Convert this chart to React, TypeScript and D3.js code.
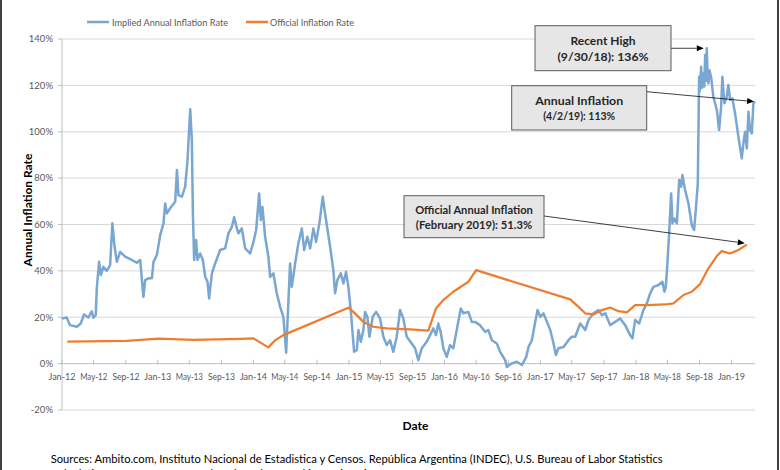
import React from 'react';
import * as d3 from 'd3';

const W = 780;
const H = 470;

// ---------- data ----------
const yTickValues = [-20, 0, 20, 40, 60, 80, 100, 120, 140];
const xTickLabels = ['Jan-12','May-12','Sep-12','Jan-13','May-13','Sep-13','Jan-14','May-14','Sep-14','Jan-15','May-15','Sep-15','Jan-16','May-16','Sep-16','Jan-17','May-17','Sep-17','Jan-18','May-18','Sep-18','Jan-19'];
const seriesNames = ['Implied Annual Inflation Rate', 'Official Inflation Rate'];

// [decimal year, % annual rate]
const impliedRate: [number, number][] = [
[2012.000,19.5],[2012.049,19.9],[2012.084,16.6],[2012.154,15.9],[2012.196,17.3],[2012.230,21.2],[2012.275,19.9],[2012.311,22.6],[2012.327,19.8],[2012.352,20.9],[2012.363,32.4],[2012.387,43.9],[2012.405,38.2],[2012.432,41.8],[2012.467,40.0],[2012.502,42.5],[2012.526,60.5],[2012.547,51.1],[2012.572,43.9],[2012.607,48.2],[2012.659,46.1],[2012.729,44.7],[2012.781,43.5],[2012.816,44.7],[2012.834,36.0],[2012.850,28.8],[2012.868,36.0],[2012.903,36.8],[2012.938,36.8],[2012.955,43.9],[2012.990,46.8],
[2013.025,55.4],[2013.059,60.5],[2013.077,69.1],[2013.095,64.8],[2013.129,67.0],[2013.182,69.8],[2013.200,83.5],[2013.216,72.7],[2013.252,72.0],[2013.286,76.3],[2013.310,87.1],[2013.339,109.7],[2013.356,96.4],[2013.367,64.8],[2013.380,44.7],[2013.401,53.3],[2013.415,44.7],[2013.443,47.5],[2013.471,44.7],[2013.496,37.4],[2013.520,35.3],[2013.537,28.1],[2013.566,38.9],[2013.600,43.2],[2013.652,49.0],[2013.705,49.7],[2013.739,56.2],[2013.775,59.0],[2013.799,63.1],[2013.827,58.3],[2013.844,56.2],[2013.879,58.3],[2013.914,49.7],[2013.966,47.5],
[2014.001,52.5],[2014.029,57.6],[2014.060,73.4],[2014.078,61.9],[2014.095,67.6],[2014.123,54.7],[2014.157,46.1],[2014.175,37.4],[2014.210,38.9],[2014.245,30.3],[2014.280,24.5],[2014.314,20.2],[2014.343,4.7],[2014.367,27.4],[2014.384,43.2],[2014.402,33.1],[2014.437,43.2],[2014.471,51.9],[2014.507,58.3],[2014.531,49.0],[2014.565,54.7],[2014.594,49.7],[2014.628,58.3],[2014.656,52.5],[2014.691,60.5],[2014.726,72.0],[2014.750,64.8],[2014.779,56.9],[2014.803,50.4],[2014.837,40.3],[2014.855,30.3],[2014.879,36.0],[2014.915,38.9],[2014.942,34.6],[2014.970,39.6],[2014.994,33.1],
[2015.019,23.1],[2015.054,5.1],[2015.082,5.8],[2015.099,14.5],[2015.124,9.4],[2015.151,14.5],[2015.169,22.3],[2015.193,20.2],[2015.214,11.6],[2015.249,20.2],[2015.284,22.3],[2015.326,19.5],[2015.360,11.6],[2015.396,8.0],[2015.430,10.1],[2015.465,5.1],[2015.500,11.6],[2015.535,23.1],[2015.569,19.5],[2015.605,11.6],[2015.657,8.7],[2015.692,6.6],[2015.726,1.5],[2015.762,6.6],[2015.814,9.4],[2015.849,12.3],[2015.883,15.2],[2015.911,12.3],[2015.935,17.3],[2015.960,13.7],[2015.988,6.6],
[2016.023,2.9],[2016.058,8.0],[2016.092,6.6],[2016.134,15.9],[2016.170,23.8],[2016.197,21.7],[2016.249,22.3],[2016.285,18.0],[2016.319,18.0],[2016.371,16.6],[2016.424,13.7],[2016.458,14.5],[2016.494,10.1],[2016.546,8.7],[2016.581,5.1],[2016.633,1.5],[2016.651,-1.4],[2016.703,0.1],[2016.755,0.8],[2016.808,-0.6],[2016.853,2.9],[2016.877,7.2],[2016.912,10.1],[2016.947,18.0],[2016.971,23.1],[2016.999,20.2],
[2017.033,21.7],[2017.069,18.0],[2017.104,14.5],[2017.138,8.7],[2017.163,3.7],[2017.190,6.6],[2017.243,7.2],[2017.295,10.1],[2017.330,11.6],[2017.365,11.6],[2017.417,17.3],[2017.470,14.5],[2017.504,18.8],[2017.556,21.7],[2017.609,23.1],[2017.644,20.9],[2017.679,21.7],[2017.731,16.6],[2017.783,18.0],[2017.836,19.5],[2017.888,16.6],[2017.940,12.3],[2017.964,10.9],[2017.992,18.8],
[2018.034,17.3],[2018.079,23.1],[2018.115,26.0],[2018.149,30.3],[2018.184,33.1],[2018.236,33.9],[2018.278,35.3],[2018.299,31.0],[2018.313,33.1],[2018.330,43.2],[2018.348,56.2],[2018.369,73.4],[2018.383,60.5],[2018.403,62.6],[2018.429,60.5],[2018.453,79.2],[2018.474,76.3],[2018.487,81.3],[2018.515,74.9],[2018.550,69.1],[2018.585,59.7],[2018.609,57.6],[2018.627,66.2],[2018.648,77.7],[2018.662,123.7],[2018.668,117.5],[2018.683,128.0],[2018.693,119.0],[2018.707,125.2],[2018.716,119.5],[2018.725,133.1],[2018.733,122.0],[2018.742,136.0],[2018.750,124.0],[2018.759,120.9],[2018.770,126.5],[2018.787,123.7],[2018.811,115.1],[2018.847,109.4],[2018.871,100.7],[2018.892,110.8],[2018.905,123.7],[2018.926,112.3],[2018.951,115.1],[2018.968,120.2],[2018.986,113.7],
[2019.010,114.4],[2019.038,107.9],[2019.073,97.8],[2019.108,88.5],[2019.125,95.0],[2019.143,100.0],[2019.161,92.8],[2019.178,108.6],[2019.195,100.7],[2019.213,99.3],[2019.230,112.3],[2019.247,113.0]
];

const officialRate: [number, number][] = [
[2012.055,9.5],[2012.677,9.8],[2013.007,10.8],[2013.373,10.2],[2013.862,10.7],[2014.001,10.9],[2014.157,7.0],[2014.228,10.1],[2014.314,12.3],[2014.994,24.1],[2015.047,22.3],[2015.151,18.0],[2015.256,15.9],[2015.396,15.2],[2015.639,14.8],[2015.831,14.2],[2015.911,23.8],[2015.988,27.4],[2016.092,31.0],[2016.249,35.3],[2016.330,40.3],[2017.313,27.7],[2017.417,23.8],[2017.470,21.7],[2017.556,21.2],[2017.644,23.1],[2017.731,24.2],[2017.818,22.6],[2017.906,22.1],[2017.992,25.2],[2018.115,25.2],[2018.306,25.5],[2018.393,26.0],[2018.498,29.6],[2018.585,31.0],[2018.672,34.3],[2018.759,41.1],[2018.847,46.4],[2018.899,48.5],[2018.986,47.5],[2019.073,49.0],[2019.161,51.3]
];

// annotations: two text lines plus the anchor point they point at
const annoRecentHigh = { lines: ['Recent High', '(9/30/18): 136%'], t: 2018.742, v: 136 };
const annoLatest = { lines: ['Annual Inflation', '(4/2/19): 113%'], t: 2019.247, v: 113 };
const annoOfficial = { lines: ['Official Annual Inflation', '(February 2019): 51.3%'], t: 2019.161, v: 51.3 };

const sourceLines = [
  'Sources: Ambito.com, Instituto Nacional de Estadistica y Censos. República Argentina (INDEC), U.S. Bureau of Labor Statistics',
  'Calculations: Prof. Steve H. Hanke, The Johns Hopkins University.'
];

// ---------- helpers ----------
const toDate = (t: number) => {
  const y = Math.floor(t);
  const s = Date.UTC(y, 0, 1);
  const e = Date.UTC(y + 1, 0, 1);
  return new Date(s + (t - y) * (e - s));
};
const parseTick = d3.utcParse('%b-%y');

const FONT = 'Lato, "Open Sans", sans-serif';
const BLUE = '#7aa6d2';
const ORANGE = '#ed7d31';

export default function App() {
  const x = d3.scaleUtc().domain([new Date(Date.UTC(2012, 0, 1)), new Date(Date.UTC(2019, 3, 1))]).range([62, 755]);
  const y = d3.scaleLinear().domain([-20, 140]).range([410, 39]);
  const line = d3.line<[number, number]>().x(d => x(toDate(d[0]))).y(d => y(d[1])).curve(d3.curveLinear);

  const y0 = y(0);

  const box = (a: { lines: string[] }, bx: number, by: number, bw: number, bh: number, widths: number[]) => (
    <g>
      <rect x={bx} y={by} width={bw} height={bh} fill="#e6e6e6" stroke="#5a5a5a" strokeWidth={1} />
      {a.lines.map((l, i) => (
        <text key={i} x={bx + bw / 2} y={by + bh / 2 - 3 + i * 15.5} textAnchor="middle" fontFamily={FONT} fontWeight="bold" fontSize={11.5} fill="#262626" textLength={widths[i]} lengthAdjust="spacingAndGlyphs">{l}</text>
      ))}
    </g>
  );

  const arrow = (x1: number, y1: number, x2: number, y2: number) => {
    const ang = Math.atan2(y2 - y1, x2 - x1);
    const L = 7, Wd = 3;
    const bx = x2 - L * Math.cos(ang), by = y2 - L * Math.sin(ang);
    const px = -Math.sin(ang) * Wd, py = Math.cos(ang) * Wd;
    return (
      <g>
        <line x1={x1} y1={y1} x2={bx} y2={by} stroke="#000" strokeWidth={0.75} />
        <path d={`M${x2},${y2}L${bx + px},${by + py}L${bx - px},${by - py}Z`} fill="#000" />
      </g>
    );
  };

  const hx = x(toDate(annoRecentHigh.t));
  const hy = y(annoRecentHigh.v);
  const lx = x(toDate(annoLatest.t));
  const ly = y(annoLatest.v);
  const ox = x(toDate(annoOfficial.t));
  const oy = y(annoOfficial.v);

  return (
    <svg width={W} height={H} style={{ position: 'absolute', left: 0, top: 0, background: '#fff' }}>
      <rect width={W} height={H} fill="#fff" />
      {/* gridlines */}
      {yTickValues.map(v => (
        <g key={v}>
          <line x1={62} x2={755} y1={y(v)} y2={y(v)} stroke={v === 0 ? '#bfbfbf' : '#d9d9d9'} strokeWidth={1} />
          <line x1={58} x2={62} y1={y(v)} y2={y(v)} stroke="#bfbfbf" strokeWidth={1} />
          <text x={53} y={y(v)} dy="0.35em" textAnchor="end" fontFamily={FONT} fontSize={9.5} fill="#595959">{v}%</text>
        </g>
      ))}
      <line x1={62} x2={62} y1={y(140)} y2={y(-20)} stroke="#bfbfbf" strokeWidth={1} />
      {/* x ticks */}
      {xTickLabels.map(lbl => {
        const d = parseTick(lbl)!;
        const xx = x(d);
        return (
          <g key={lbl}>
            <line x1={xx} x2={xx} y1={y0 - 4} y2={y0 + 1} stroke="#bfbfbf" strokeWidth={1} />
            <text x={xx} y={380} textAnchor="middle" fontFamily={FONT} fontSize={9.2} fill="#595959" textLength={27} lengthAdjust="spacingAndGlyphs">{lbl}</text>
          </g>
        );
      })}
      {/* series */}
      <path d={line(impliedRate) || ''} fill="none" stroke={BLUE} strokeWidth={2.5} strokeLinejoin="round" />
      <path d={line(officialRate) || ''} fill="none" stroke={ORANGE} strokeWidth={2.25} strokeLinejoin="round" />

      {/* legend */}
      <line x1={87} x2={109} y1={22} y2={22} stroke={BLUE} strokeWidth={2.5} />
      <text x={112} y={25.5} fontFamily={FONT} fontSize={10} fill="#595959" textLength={116} lengthAdjust="spacingAndGlyphs">{seriesNames[0]}</text>
      <line x1={246} x2={268} y1={22} y2={22} stroke={ORANGE} strokeWidth={2.5} />
      <text x={270} y={25.5} fontFamily={FONT} fontSize={10} fill="#595959" textLength={84} lengthAdjust="spacingAndGlyphs">{seriesNames[1]}</text>

      {/* axis titles */}
      <text transform="translate(32,210) rotate(-90)" textAnchor="middle" fontFamily={FONT} fontWeight="bold" fontSize={12} fill="#000">Annual Inflation Rate</text>
      <text x={415.5} y={430} textAnchor="middle" fontFamily={FONT} fontWeight="bold" fontSize={12} fill="#000">Date</text>

      {/* annotations */}
      {arrow(671, hy, hx - 3, hy)}
      {box(annoRecentHigh, 535, 25.7, 136, 45, [65, 91])}
      {arrow(646.7, 91.7, lx - 1, ly)}
      {box(annoLatest, 511.7, 85.7, 135, 44.3, [88, 72])}
      {arrow(544, 216, ox - 2, oy - 1.5)}
      {box(annoOfficial, 404, 195.7, 140, 42, [117.7, 116.3])}

      {/* sources (second line is clipped by the picture edge, as in the original) */}
      <text x={50.7} y={463} fontFamily={FONT} fontSize={11.5} fill="#000" textLength={612} lengthAdjust="spacingAndGlyphs">{sourceLines[0]}</text>
      <text x={50.7} y={478} fontFamily={FONT} fontSize={11.5} fill="#000">{sourceLines[1]}</text>

      {/* frame */}
      <line x1={1} x2={1} y1={0} y2={H} stroke="#404040" strokeWidth={2} />
      <line x1={778} x2={778} y1={0} y2={H} stroke="#404040" strokeWidth={2} />
    </svg>
  );
}
